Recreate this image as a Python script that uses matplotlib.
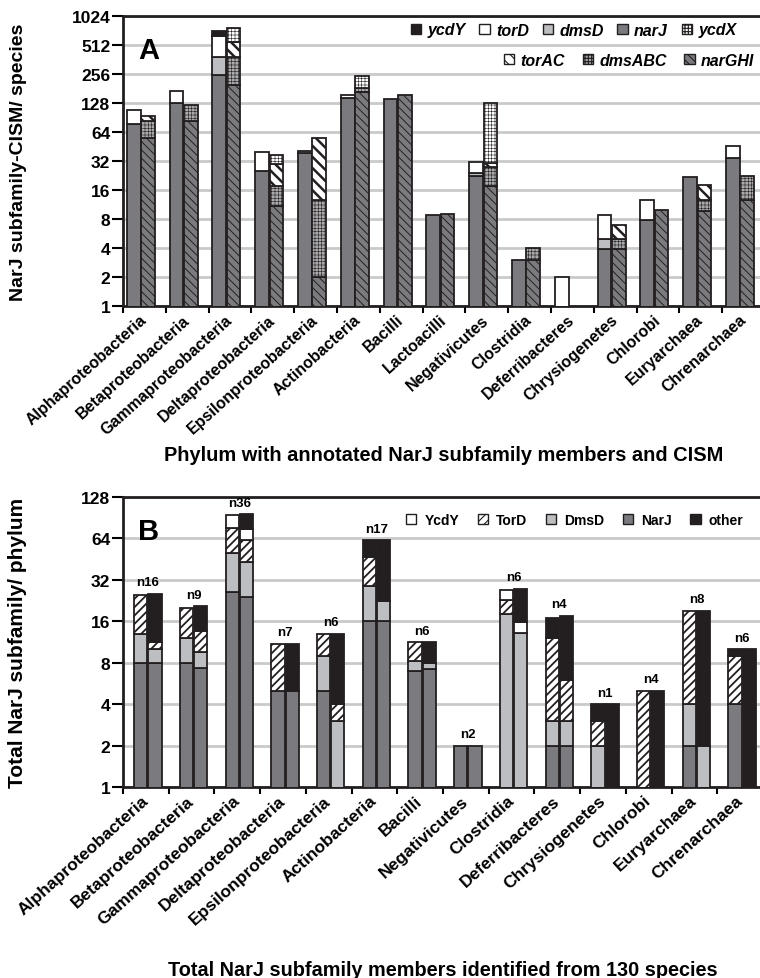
import matplotlib
matplotlib.use("Agg")
import matplotlib.pyplot as plt
import numpy as np
from matplotlib.patches import Patch

plt.rcParams["font.family"] = ["Liberation Sans", "DejaVu Sans"]
plt.rcParams["font.weight"] = "bold"
plt.rcParams["hatch.linewidth"] = 0.8

# ---------- panel A data (segment counts, stacked) ----------
phyla_a = ["Alphaproteobacteria", "Betaproteobacteria", "Gammaproteobacteria",
           "Deltaproteobacteria", "Epsilonproteobacteria", "Actinobacteria",
           "Bacilli", "Lactoacilli", "Negativicutes", "Clostridia",
           "Deferribacteres", "Chrysiogenetes", "Chlorobi", "Euryarchaea",
           "Chrenarchaea"]
# chaperone bar (left)
narJ = [78, 127, 250, 25, 39, 143, 141, 8.8, 22.5, 3, 0, 3.9, 7.9, 22, 34]
dmsD = [0, 0, 138, 0, 2, 0, 0, 0, 1.8, 0, 0, 1.1, 0, 0, 0]
torD = [30, 43, 251, 15, 0, 12, 0, 0, 7.2, 0, 2, 3.9, 4.8, 0, 12]
ycdY = [0, 0, 75, 0, 0, 0, 0, 0, 0, 0, 0, 0, 0, 0, 0]
# enzyme bar (right)
narGHI = [56, 83, 197, 11, 2, 165, 155, 9, 17.5, 3, 0, 3.9, 9.9, 9.8, 12.7]
dmsABC = [27, 39, 185, 6.5, 10.7, 18, 0, 0, 10, 1, 0, 1.1, 0, 2.9, 9.8]
torAC = [10, 0, 163, 12.5, 42.3, 0, 0, 0, 3, 0, 0, 2, 0, 5.5, 0]
ycdX = [0, 0, 225, 7, 0, 60, 0, 0, 96.5, 0, 0, 0, 0, 0, 0]

# ---------- panel B data ----------
phyla_b = ["Alphaproteobacteria", "Betaproteobacteria", "Gammaproteobacteria",
           "Deltaproteobacteria", "Epsilonproteobacteria", "Actinobacteria",
           "Bacilli", "Negativicutes", "Clostridia", "Deferribacteres",
           "Chrysiogenetes", "Chlorobi", "Euryarchaea", "Chrenarchaea"]
n_species = [16, 9, 36, 7, 6, 17, 6, 2, 6, 4, 1, 4, 8, 6]
# left bar
narj_l = [8, 8, 26, 5, 5, 16, 7, 2, 0, 2, 0, 0, 2, 4]
dmsd_l = [5, 4, 24, 0, 4, 13, 1.3, 0, 18, 1, 2, 0, 2, 0]
tord_l = [12, 8, 26, 6, 4, 18, 3, 0, 5, 9, 1, 5, 15, 5]
ycdy_l = [0, 0, 19, 0, 0, 0, 0, 0, 4, 0, 0, 0, 0, 0]
other_l = [0, 0, 0, 0, 0, 15, 0, 0, 0, 5, 1, 0, 0, 1]
# right bar
narj_r = [8, 7.3, 24, 5, 0, 16, 7.2, 2, 0, 2, 0, 0, 0, 0]
dmsd_r = [2, 2.2, 19.5, 0, 3, 6.5, 0.8, 0, 13.2, 1, 0, 0, 2, 0]
tord_r = [1.3, 4, 18.5, 0, 1, 0, 0, 0, 0, 3, 0, 0, 0, 0]
ycdy_r = [0, 0, 13, 0, 0, 0, 0, 0, 2.6, 0, 0, 0, 0, 0]
other_r = [14, 7.1, 21, 6, 9, 39.5, 3.3, 0, 11.7, 11.6, 4, 5, 17, 10]

DARK = "#7b7b7f"
LIGHT = "#bdbec1"
BLACK = "#231f20"
GRID = "#cacaca"

STY = {
    "narJ": dict(facecolor=DARK, hatch=None, hlw=None),
    "dmsD": dict(facecolor=LIGHT, hatch=None, hlw=None),
    "torD": dict(facecolor="white", hatch=None, hlw=None),
    "ycdY": dict(facecolor=BLACK, hatch=None, hlw=None),
    "narGHI": dict(facecolor=DARK, hatch="\\\\\\\\", hlw=0.7),
    "dmsABC": dict(facecolor="#a9a9ab", hatch="+++++", hlw=0.4),
    "torAC": dict(facecolor="white", hatch="\\\\\\", hlw=1.8),
    "ycdX": dict(facecolor="white", hatch="+++++", hlw=0.4),
    "TorD": dict(facecolor="white", hatch="////", hlw=1.3),
    "other": dict(facecolor=BLACK, hatch=None, hlw=None),
}


def stack(ax, xpos, width, segments):
    bottom = np.zeros(len(xpos))
    for vals, key in segments:
        vals = np.asarray(vals, dtype=float)
        s = STY[key]
        for i in np.nonzero(vals > 0)[0]:
            bars = ax.bar(xpos[i], vals[i], width=width, bottom=bottom[i],
                          color=s["facecolor"], edgecolor=BLACK, linewidth=1.3,
                          hatch=s["hatch"], zorder=3)
            if s["hlw"] and hasattr(bars[0], "set_hatch_linewidth"):
                bars[0].set_hatch_linewidth(s["hlw"])
        bottom = bottom + vals
    return bottom


def legend_handle(key, label):
    s = STY[key]
    p = Patch(facecolor=s["facecolor"], edgecolor=BLACK, linewidth=1.0,
              hatch=s["hatch"], label=label)
    if s["hlw"] and hasattr(p, "set_hatch_linewidth"):
        p.set_hatch_linewidth(s["hlw"])
    return p


def style_axis(ax, n, ymax, labels, label_size):
    ax.set_yscale("log", base=2)
    ax.set_ylim(1, ymax)
    ax.set_xlim(-0.5, n - 0.5)
    ticks = [2 ** k for k in range(int(np.log2(ymax)) + 1)]
    ax.set_yticks(ticks, [str(t) for t in ticks])
    ax.yaxis.set_minor_locator(matplotlib.ticker.NullLocator())
    ax.yaxis.grid(True, color=GRID, linewidth=2)
    ax.set_axisbelow(True)
    ax.tick_params(axis="y", length=8, width=1.5, labelsize=12.5, pad=1)
    ax.set_xticks(np.arange(-0.5, n, 1), [""] * (n + 1))
    ax.set_xticks(np.arange(n), labels, minor=True, rotation=42,
                  ha="right", va="center", rotation_mode="anchor")
    ax.tick_params(axis="x", which="major", length=5, width=1.5)
    ax.tick_params(axis="x", which="minor", length=0, labelsize=label_size, pad=8)
    for sp in ax.spines.values():
        sp.set_linewidth(2)
        sp.set_color(BLACK)


fig = plt.figure(figsize=(7.6, 9.79), dpi=100)
W, H = 760, 979

# ---------------- panel A ----------------
axA = fig.add_axes([123 / W, 1 - 307 / H, 642 / W, 290 / H])
xa = np.arange(len(phyla_a))
stack(axA, xa - 0.25, 0.32, [(narJ, "narJ"), (dmsD, "dmsD"), (torD, "torD"), (ycdY, "ycdY")])
stack(axA, xa + 0.085, 0.32, [(narGHI, "narGHI"), (dmsABC, "dmsABC"), (torAC, "torAC"), (ycdX, "ycdX")])
style_axis(axA, len(phyla_a), 1024, phyla_a, 11.5)
axA.set_ylabel("NarJ subfamily-CISM/ species", fontsize=14, fontweight="bold")
axA.yaxis.set_label_coords((27 - 123) / 642, 0.5)
axA.set_xlabel("Phylum with annotated NarJ subfamily members and CISM",
               fontsize=14.4, fontweight="bold")
axA.xaxis.set_label_coords(0.5, (307 - 446) / 290)
axA.text(0.024, 0.93, "A", transform=axA.transAxes, fontsize=21,
         fontweight="bold", va="top", ha="left")

leg_kw = dict(frameon=False, handlelength=0.65, handleheight=0.65,
              handletextpad=0.4, borderpad=0, borderaxespad=0,
              prop=dict(weight="bold", style="italic", size=11.5))
row1 = [legend_handle("ycdY", "ycdY"), legend_handle("torD", "torD"),
        legend_handle("dmsD", "dmsD"), legend_handle("narJ", "narJ"),
        legend_handle("ycdX", "ycdX")]
row2 = [legend_handle("torAC", "torAC"), legend_handle("dmsABC", "dmsABC"),
        legend_handle("narGHI", "narGHI")]
fig.legend(handles=row1, ncol=5, loc="center left",
           bbox_to_anchor=(411 / W, 1 - 31 / H), columnspacing=0.85, **leg_kw)
fig.legend(handles=row2, ncol=3, loc="center left",
           bbox_to_anchor=(504 / W, 1 - 61 / H), columnspacing=1.1, **leg_kw)

# ---------------- panel B ----------------
axB = fig.add_axes([123 / W, 1 - 788 / H, 640 / W, 290 / H])
xb = np.arange(len(phyla_b))
top_l = stack(axB, xb - 0.11, 0.29, [(narj_l, "narJ"), (dmsd_l, "dmsD"), (tord_l, "TorD"),
                                    (ycdy_l, "torD"), (other_l, "other")])
top_r = stack(axB, xb + 0.2, 0.29, [(narj_r, "narJ"), (dmsd_r, "dmsD"), (tord_r, "TorD"),
                                   (ycdy_r, "torD"), (other_r, "other")])
style_axis(axB, len(phyla_b), 128, phyla_b, 12.5)
for i, n in enumerate(n_species):
    axB.annotate(f"n{n}", (xb[i] + 0.045, max(top_l[i], top_r[i])),
                 xytext=(0, 4), textcoords="offset points",
                 ha="center", va="bottom", fontsize=9.5, fontweight="bold")
axB.set_ylabel("Total NarJ subfamily/ phylum", fontsize=15, fontweight="bold")
axB.yaxis.set_label_coords((27 - 123) / 640, 0.5)
axB.set_xlabel("Total NarJ subfamily members identified from 130 species",
               fontsize=14.3, fontweight="bold")
axB.xaxis.set_label_coords(0.5, (788 - 961) / 290)
axB.text(0.024, 0.93, "B", transform=axB.transAxes, fontsize=21,
         fontweight="bold", va="top", ha="left")

rowb = [legend_handle("torD", "YcdY"), legend_handle("TorD", "TorD"),
        legend_handle("dmsD", "DmsD"), legend_handle("narJ", "NarJ"),
        legend_handle("other", "other")]
fig.legend(handles=rowb, ncol=5, loc="center left",
           bbox_to_anchor=(406 / W, 1 - 521 / H), frameon=False,
           handlelength=0.75, handleheight=0.75, handletextpad=0.6,
           borderpad=0, borderaxespad=0, columnspacing=1.3,
           prop=dict(weight="bold", size=10))

fig.savefig("out.png", dpi=100)
